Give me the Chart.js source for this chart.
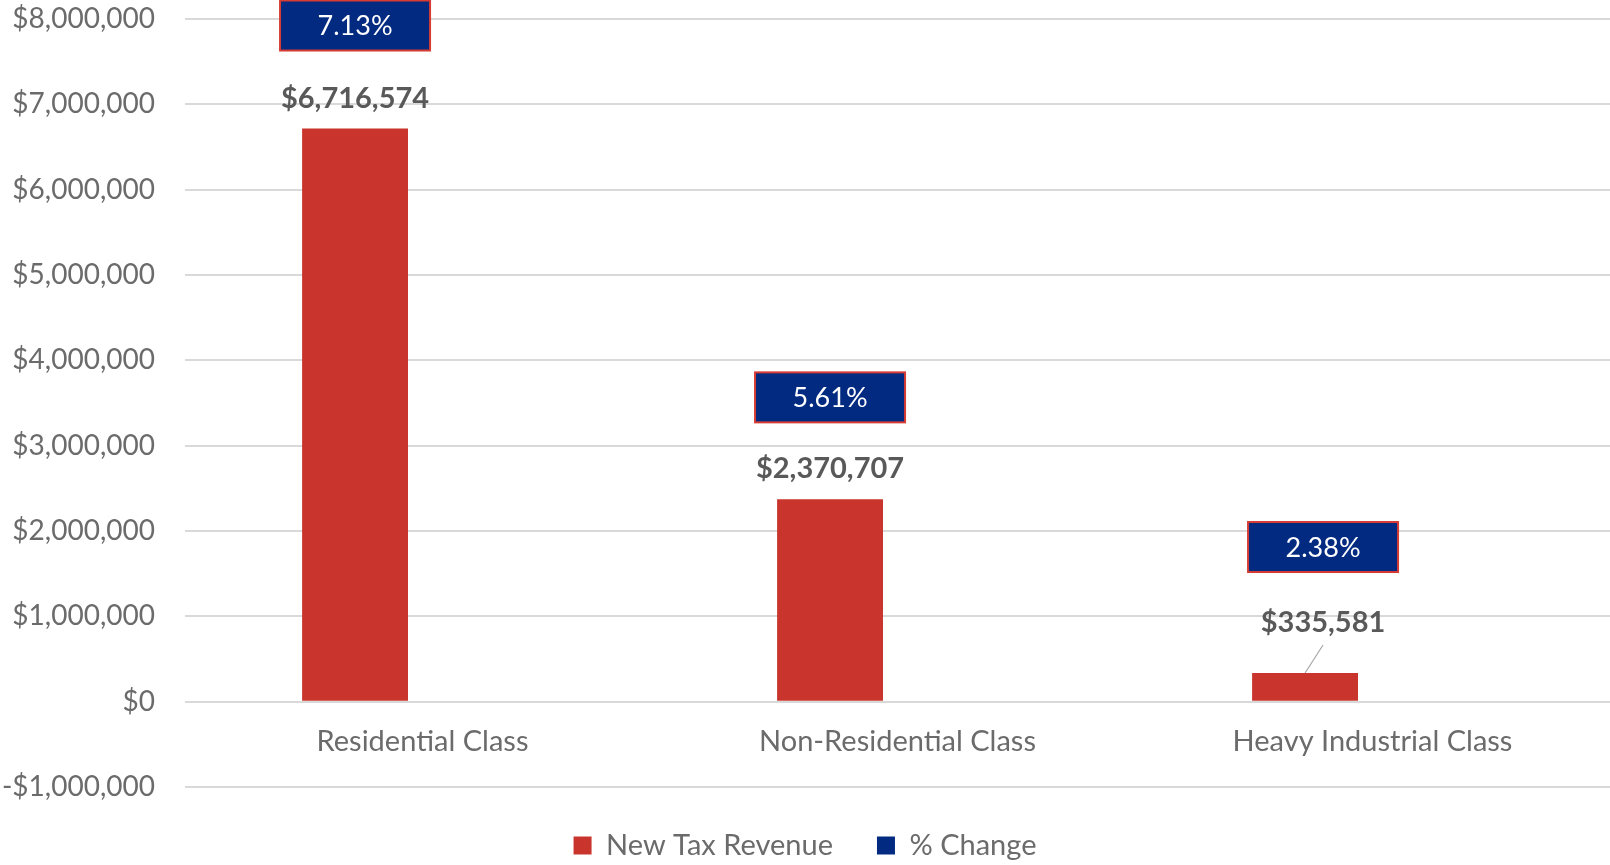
<!DOCTYPE html>
<html>
<head>
<meta charset="utf-8">
<script src="https://cdn.jsdelivr.net/npm/chart.js@4.4.1/dist/chart.umd.min.js"></script>
<style>
  html, body { margin: 0; padding: 0; background: #ffffff; }
  #wrap { width: 1610px; height: 865px; }
</style>
</head>
<body>
<div id="wrap"><canvas id="chart" width="1610" height="865"></canvas></div>
<script>
// Tax revenue by property class
const categories = ['Residential Class', 'Non-Residential Class', 'Heavy Industrial Class'];
const newTaxRevenue = [6716574, 2370707, 335581];
const percentChange = [0.0713, 0.0561, 0.0238];
const seriesNames = ['New Tax Revenue', '% Change'];
const yMin = -1000000;
const yMax = 8000000;
const yStep = 1000000;

// Label placement (pixels above the top of each revenue bar, plus a sideways nudge)
const revenueLabelLift = [30, 31, 50];
const changeBoxLift = [103, 102, 126];
const labelShiftX = [0, 0, 18];

const RED = '#C9342D';
const NAVY = '#012A80';
const seriesColors = [RED, NAVY];
const FONT = 'Lato, "Open Sans", sans-serif';

function money(v) {
  const s = '$' + Math.abs(v).toLocaleString('en-US');
  return v < 0 ? '-' + s : s;
}

// Draws the revenue values and the boxed percentage labels above the bars
const barLabels = {
  id: 'barLabels',
  afterDatasetsDraw(chart) {
    const ctx = chart.ctx;
    const meta = chart.getDatasetMeta(0);
    ctx.save();
    meta.data.forEach((bar, i) => {
      const cx = bar.x + labelShiftX[i];
      // revenue value
      const ly = bar.y - revenueLabelLift[i];
      ctx.font = 'bold 29px ' + FONT;
      ctx.fillStyle = '#595959';
      ctx.textAlign = 'center';
      ctx.textBaseline = 'middle';
      ctx.fillText(money(newTaxRevenue[i]), cx, ly);
      if (labelShiftX[i] !== 0) {
        ctx.strokeStyle = '#a6a6a6';
        ctx.lineWidth = 1.2;
        ctx.beginPath();
        ctx.moveTo(cx, ly + 22);
        ctx.lineTo(bar.x, bar.y);
        ctx.stroke();
      }
      // percentage box
      const by = bar.y - changeBoxLift[i];
      const w = 150, h = 50;
      ctx.fillStyle = NAVY;
      ctx.fillRect(cx - w / 2, by - h / 2, w, h);
      ctx.strokeStyle = '#D63C33';
      ctx.lineWidth = 2;
      ctx.strokeRect(cx - w / 2, by - h / 2, w, h);
      ctx.font = '27px ' + FONT;
      ctx.fillStyle = '#ffffff';
      ctx.fillText((percentChange[i] * 100).toFixed(2) + '%', cx, by + 1);
    });
    ctx.restore();
  }
};

new Chart(document.getElementById('chart'), {
  type: 'bar',
  data: {
    labels: categories,
    datasets: [
      { label: seriesNames[0], data: newTaxRevenue, backgroundColor: RED,
        barPercentage: 0.785, categoryPercentage: 0.568 },
      { label: seriesNames[1], data: percentChange,
        // the percentage bars are far below one pixel tall on this axis
        backgroundColor: 'rgba(0,0,0,0)',
        borderWidth: 0, inflateAmount: 0,
        barPercentage: 0.785, categoryPercentage: 0.568 }
    ]
  },
  options: {
    responsive: false,
    animation: false,
    layout: { padding: { left: 0, right: 0, top: 19, bottom: 0 } },
    plugins: {
      legend: {
        position: 'bottom',
        maxHeight: 78,
        labels: {
          font: { family: FONT, size: 29 },
          color: '#6b6b6b',
          boxWidth: 18,
          boxHeight: 18,
          padding: 44,
          generateLabels(chart) {
            const items = Chart.defaults.plugins.legend.labels.generateLabels(chart);
            items.forEach(it => {
              it.fillStyle = seriesColors[it.datasetIndex];
              it.strokeStyle = seriesColors[it.datasetIndex];
              it.lineWidth = 0;
            });
            return items;
          }
        }
      },
      tooltip: { enabled: false }
    },
    scales: {
      x: {
        position: { y: 0 },
        grid: { display: false },
        border: { display: false },
        ticks: {
          font: { family: FONT, size: 29 },
          color: '#6b6b6b',
          padding: 15
        }
      },
      y: {
        min: yMin,
        max: yMax,
        afterFit(scale) {
          scale.width = 185;
          scale.paddingTop = 0;
          scale.paddingBottom = 0;
        },
        grid: { color: '#d9d9d9', lineWidth: 2, drawTicks: false },
        border: { display: false },
        ticks: {
          stepSize: yStep,
          padding: 30,
          font: { family: FONT, size: 28 },
          color: '#6b6b6b',
          callback: v => money(v)
        }
      }
    }
  },
  plugins: [barLabels]
});
</script>
</body>
</html>
